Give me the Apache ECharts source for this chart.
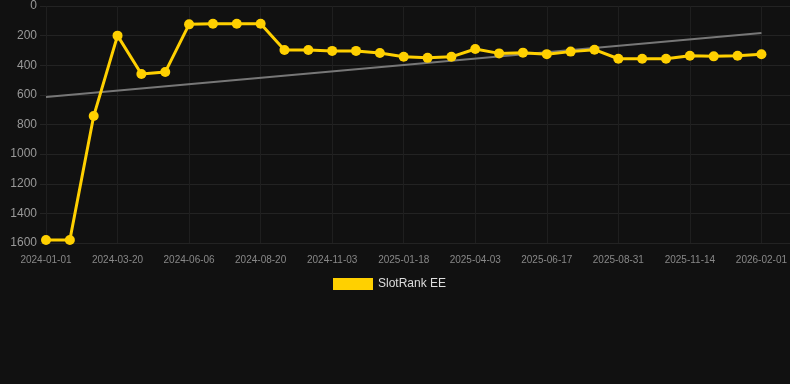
<!DOCTYPE html>
<html>
<head>
<meta charset="utf-8">
<script src="https://cdn.jsdelivr.net/npm/echarts@6/dist/echarts.min.js"></script>
<style>html,body{margin:0;padding:0;background:#111111;}#c{width:790px;height:384px;}</style>
</head>
<body>
<div id="c"></div>
<script>
const categories = [
  '2024-01-01','2024-01-27','2024-02-23','2024-03-20','2024-04-15','2024-05-11',
  '2024-06-06','2024-07-01','2024-07-26','2024-08-20','2024-09-14','2024-10-09',
  '2024-11-03','2024-11-28','2024-12-24','2025-01-18','2025-02-12','2025-03-09',
  '2025-04-03','2025-04-28','2025-05-23','2025-06-17','2025-07-12','2025-08-06',
  '2025-08-31','2025-09-25','2025-10-20','2025-11-14','2025-12-10','2026-01-06',
  '2026-02-01'
];
const rankValues = [
  1580, 1580, 743, 200, 459, 446,
  124, 120, 120, 120, 297, 297,
  303, 303, 317, 343, 350, 343,
  290, 320, 315, 325, 308, 295,
  356, 356, 356, 336, 340, 336,
  326
];
const trendValues = [615, null, null, null, null, null, null, null, null, null, null, null, null, null, null, null, null, null, null, null, null, null, null, null, null, null, null, null, null, null, 182];
const yTicks = { min: 0, max: 1600, interval: 200 };

const font = 'Arial, Liberation Sans, sans-serif';
const chart = echarts.init(document.getElementById('c'), null, { renderer: 'canvas' });
chart.setOption({
  backgroundColor: '#111111',
  animation: false,
  grid: [
    { left: 46, right: 28, top: 6, bottom: 141, containLabel: false },
    { left: 40, right: 0, top: 6, bottom: 141, containLabel: false }
  ],
  legend: {
    data: ['SlotRank EE'],
    top: 273,
    left: 328,
    itemWidth: 40,
    itemHeight: 12,
    icon: 'rect',
    textStyle: { color: '#dddddd', fontSize: 12, fontFamily: font }
  },
  xAxis: [
    {
      type: 'category',
      gridIndex: 0,
      data: categories,
      boundaryGap: false,
      axisLine: { show: false },
      axisTick: { show: false },
      axisLabel: { interval: 2, color: '#888888', fontSize: 10, margin: 12, fontFamily: font },
      splitLine: { show: true, interval: 2, lineStyle: { color: '#1f1f1f' } }
    },
    {
      type: 'value',
      gridIndex: 1,
      min: 0, max: 1, show: true,
      axisLine: { show: false }, axisTick: { show: false }, axisLabel: { show: false },
      splitLine: { show: false }
    }
  ],
  yAxis: [
    {
      type: 'value',
      gridIndex: 0,
      inverse: true,
      min: yTicks.min,
      max: yTicks.max,
      interval: yTicks.interval,
      axisLine: { show: false },
      axisTick: { show: false },
      axisLabel: { color: '#999999', fontSize: 12, margin: 9, fontFamily: font, formatter: v => String(v) },
      splitLine: { show: false }
    },
    {
      type: 'value',
      gridIndex: 1,
      inverse: true,
      min: yTicks.min,
      max: yTicks.max,
      interval: yTicks.interval,
      axisLine: { show: false },
      axisTick: { show: false },
      axisLabel: { show: false },
      splitLine: { show: true, lineStyle: { color: '#232323' } }
    }
  ],
  series: [
    {
      name: 'Trend',
      type: 'line',
      xAxisIndex: 0, yAxisIndex: 0,
      data: trendValues,
      connectNulls: true,
      showSymbol: false,
      symbol: 'none',
      lineStyle: { color: '#777777', width: 2 },
      silent: true,
      z: 3
    },
    {
      name: 'SlotRank EE',
      type: 'line',
      xAxisIndex: 0, yAxisIndex: 0,
      data: rankValues,
      symbol: 'circle',
      symbolSize: 10,
      itemStyle: { color: '#FFD000' },
      lineStyle: { color: '#FFD000', width: 3 },
      z: 4
    }
  ]
});
</script>
</body>
</html>
